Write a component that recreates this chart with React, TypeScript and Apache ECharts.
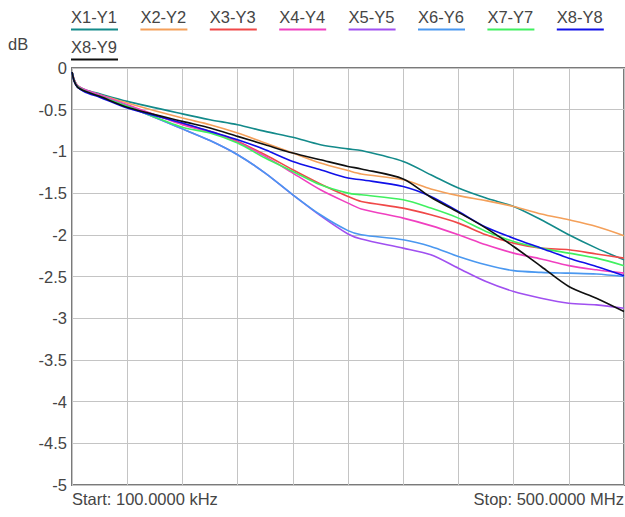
import React, { useEffect, useRef } from "react";
import * as echarts from "echarts";

// Sweep frequencies (MHz), linear sweep 100 kHz .. 500 MHz
const FREQ_MHZ = [0.1, 2, 5, 12, 25, 50, 100, 125, 150, 175, 200, 225, 250, 262, 300, 325, 350, 375, 400, 425, 450, 475, 500];

// Insertion loss traces (dB)
const X1_Y1 = [-0.05, -0.14, -0.21, -0.26, -0.31, -0.40, -0.55, -0.62, -0.68, -0.76, -0.83, -0.92, -0.97, -0.99, -1.12, -1.28, -1.44, -1.56, -1.66, -1.82, -2.00, -2.16, -2.30];
const X2_Y2 = [-0.05, -0.15, -0.22, -0.27, -0.32, -0.42, -0.60, -0.68, -0.78, -0.90, -1.02, -1.14, -1.23, -1.27, -1.34, -1.45, -1.53, -1.59, -1.66, -1.75, -1.82, -1.90, -2.01];
const X3_Y3 = [-0.05, -0.14, -0.21, -0.27, -0.33, -0.45, -0.67, -0.76, -0.88, -1.04, -1.22, -1.39, -1.54, -1.60, -1.68, -1.76, -1.86, -2.00, -2.10, -2.16, -2.18, -2.23, -2.28];
const X4_Y4 = [-0.05, -0.14, -0.21, -0.26, -0.32, -0.44, -0.68, -0.77, -0.89, -1.06, -1.26, -1.46, -1.62, -1.69, -1.80, -1.89, -2.00, -2.12, -2.22, -2.29, -2.37, -2.42, -2.46];
const X5_Y5 = [-0.05, -0.16, -0.23, -0.28, -0.34, -0.46, -0.73, -0.87, -1.04, -1.26, -1.52, -1.77, -1.99, -2.05, -2.16, -2.24, -2.40, -2.56, -2.68, -2.76, -2.82, -2.84, -2.88];
const X6_Y6 = [-0.05, -0.16, -0.23, -0.28, -0.34, -0.46, -0.73, -0.87, -1.04, -1.26, -1.52, -1.76, -1.95, -2.00, -2.06, -2.14, -2.26, -2.36, -2.43, -2.45, -2.46, -2.47, -2.50];
const X7_Y7 = [-0.05, -0.15, -0.22, -0.28, -0.34, -0.46, -0.71, -0.78, -0.90, -1.08, -1.24, -1.40, -1.50, -1.52, -1.58, -1.68, -1.80, -1.96, -2.08, -2.16, -2.22, -2.28, -2.37];
const X8_Y8 = [-0.05, -0.16, -0.23, -0.29, -0.35, -0.48, -0.66, -0.76, -0.86, -0.98, -1.12, -1.22, -1.32, -1.34, -1.42, -1.54, -1.72, -1.91, -2.04, -2.16, -2.28, -2.38, -2.49];
const X8_Y9 = [-0.05, -0.16, -0.23, -0.28, -0.34, -0.47, -0.64, -0.72, -0.82, -0.92, -1.02, -1.10, -1.18, -1.21, -1.33, -1.55, -1.73, -1.92, -2.14, -2.38, -2.62, -2.76, -2.92];

const SERIES_NAMES = ["X1-Y1", "X2-Y2", "X3-Y3", "X4-Y4", "X5-Y5", "X6-Y6", "X7-Y7", "X8-Y8", "X8-Y9"];
const SERIES_VALUES = [X1_Y1, X2_Y2, X3_Y3, X4_Y4, X5_Y5, X6_Y6, X7_Y7, X8_Y8, X8_Y9];
const SERIES_COLORS = ["#138a8a", "#f4a05a", "#f04848", "#f040c0", "#a050f0", "#4a98f0", "#40f060", "#1010e8", "#101010"];

const Y_MIN = -5;
const Y_MAX = 0;
const Y_STEP = 0.5;
const X_MIN = 0;
const X_MAX = 500;
const X_STEP = 50;

const START_LABEL = "Start: 100.0000 kHz";
const STOP_LABEL = "Stop: 500.0000 MHz";
const UNIT_LABEL = "dB";

const FONT = "'Liberation Sans', Arial, sans-serif";
const FONT_SIZE = 16.5;
const TEXT_COLOR = "#454545";

export default function App() {
  const ref = useRef<HTMLDivElement>(null);

  useEffect(() => {
    if (!ref.current) return;
    const chart = echarts.init(ref.current, null, { renderer: "svg" });

    // Underlined legend entries, eight per row
    const legendGraphics: any[] = [];
    SERIES_NAMES.forEach((name, i) => {
      const row = i < 8 ? 0 : 1;
      const col = i % 8;
      const x = 71 + col * 69.4;
      legendGraphics.push({
        type: "text",
        left: x,
        top: 8 + row * 30,
        style: { text: name, fill: TEXT_COLOR, font: `${FONT_SIZE}px ${FONT}` },
      });
      legendGraphics.push({
        type: "line",
        shape: { x1: x, y1: 29.5 + row * 30, x2: x + 47, y2: 29.5 + row * 30 },
        style: { stroke: SERIES_COLORS[i], lineWidth: 2 },
      });
    });

    chart.setOption({
      animation: false,
      backgroundColor: "#ffffff",
      textStyle: { fontFamily: FONT },
      grid: {
        left: 72,
        right: 1,
        top: 68,
        bottom: 32,
        show: true,
        borderColor: "#7a7a7a",
        borderWidth: 2,
        backgroundColor: "transparent",
      },
      xAxis: {
        type: "value",
        min: X_MIN,
        max: X_MAX,
        interval: X_STEP,
        axisLine: { show: false },
        axisTick: { show: false },
        axisLabel: { show: false },
        splitLine: { show: true, lineStyle: { color: "#c4c4c4", width: 1 } },
      },
      yAxis: {
        type: "value",
        min: Y_MIN,
        max: Y_MAX,
        interval: Y_STEP,
        axisLine: { show: false },
        axisTick: { show: false },
        axisLabel: { color: TEXT_COLOR, fontSize: FONT_SIZE, fontFamily: FONT, margin: 5 },
        splitLine: { show: true, lineStyle: { color: "#c4c4c4", width: 1 } },
      },
      series: SERIES_NAMES.map((name, i) => ({
        name,
        type: "line",
        data: FREQ_MHZ.map((f, j) => [f, SERIES_VALUES[i][j]]),
        showSymbol: false,
        smooth: 0.3,
        lineStyle: { color: SERIES_COLORS[i], width: 1.6 },
        itemStyle: { color: SERIES_COLORS[i] },
        z: 3,
      })),
      graphic: [
        ...legendGraphics,
        {
          type: "text",
          left: 8,
          top: 35,
          style: { text: UNIT_LABEL, fill: TEXT_COLOR, font: `${FONT_SIZE}px ${FONT}` },
        },
        {
          type: "text",
          left: 72,
          top: 490,
          style: { text: START_LABEL, fill: TEXT_COLOR, font: `${FONT_SIZE}px ${FONT}` },
        },
        {
          type: "text",
          right: 1,
          top: 490,
          style: { text: STOP_LABEL, fill: TEXT_COLOR, font: `${FONT_SIZE}px ${FONT}` },
        },
      ],
    });

    return () => chart.dispose();
  }, []);

  return (
    <div
      ref={ref}
      style={{ position: "fixed", left: 0, top: 0, width: 625, height: 517, background: "#fff" }}
    />
  );
}
